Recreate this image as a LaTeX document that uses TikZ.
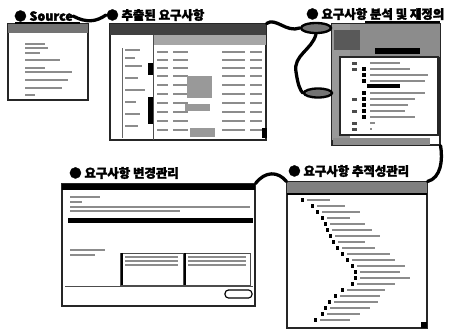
\documentclass[tikz,border=0pt]{standalone}
\usepackage{fontspec}
\newfontfamily\kr{Noto Sans CJK KR}[BoldFeatures={FakeBold=2.5}]
\usetikzlibrary{fit,shapes.geometric}
\tikzset{
  win/.style={draw=black!85, line width=0.9pt, fill=white, inner sep=0pt},
  titlebar/.style={fill=black!55},
  scrib/.style={black!45, line width=0.9pt},
  wire/.style={line width=2.8pt, line cap=round},
  lbl/.style={font=\kr\bfseries\fontsize{10.6}{12}\selectfont, inner sep=0pt, anchor=west},
  oval/.style={ellipse, draw=black, line width=2pt, fill=black!55, inner sep=0pt}
}
\begin{document}
\begin{tikzpicture}[x=0.03cm, y=-0.03cm]
  \useasboundingbox (0,0) rectangle (453,331);

  % labels
  \node[lbl] (srclbl) at (14,16) {● Source};
  \node[lbl] (extlbl) at (106,15) {● 추출된 요구사항};
  \node[lbl] (anlbl) at (306,14) {● 요구사항 분석 및 재정의};
  \node[lbl] (chglbl) at (69,173) {● 요구사항 변경관리};
  \node[lbl] (trclbl) at (288,171) {● 요구사항 추적성관리};

  % source window
  \node[win, fit={(8,24) (88,100)}] (src) {};
  \fill[titlebar] (8,24) rectangle (88,33);
  \draw[line width=2pt] (15,23) -- (80,23);
  \foreach \y/\a/\b in {44/25/45, 48/25/48, 53/25/40, 60/25/60, 68/25/45,
                        72/25/72, 80/25/68, 88/25/62, 95/25/35}
    \draw[scrib] (\a,\y) -- (\b,\y);

  % extracted requirements window
  \node[win, fit={(110,24) (266,140)}] (ext) {};
  \fill[black!75] (110,24) rectangle (266,35);
  \fill[black!35] (153,35) rectangle (266,45);
  \draw[black!60, line width=0.8pt] (122,48) -- (122,138);
  \fill (148,63) rectangle (153,75);
  \fill (148,97) rectangle (153,124);
  \draw[black!70] (153,35) -- (153,140);
  \foreach \y in {52,60,68,76,85,94,103,112,121,130} {
    \draw[scrib] (157,\y) -- (168,\y);
    \draw[scrib] (173,\y) -- (188,\y);
    \draw[scrib] (222,\y) -- (245,\y);
    \draw[scrib] (250,\y) -- (262,\y);
  }
  \foreach \y/\b in {50/140, 58/135, 66/142, 78/138, 90/145, 102/136, 114/140, 126/138}
    \draw[scrib] (125,\y) -- (\b,\y);
  \fill[black!40] (187,76) rectangle (212,98);
  \fill[black!40] (185,104) rectangle (210,111);
  \fill[black!40] (190,128) rectangle (215,137);
  \fill (262,128) rectangle (267,138);

  % analysis windows
  \node[win, fit={(332,24) (440,145)}] (anB) {};
  \fill[black!45] (350,24) rectangle (440,57);
  \fill[black!40] (332,24) rectangle (350,140);
  \fill[black!65] (334,30) rectangle (360,50);
  \fill (375,48) rectangle (420,54);
  \draw[line width=2pt] (365,22) -- (440,22);
  \fill[black!45] (333,138) rectangle (430,145);
  \node[win, line width=1.3pt, fit={(340,57) (438,135)}] (anF) {};
  \foreach \y/\b in {63/400, 69/410, 75/428, 81/425, 93/425, 99/415,
                     105/408, 111/405, 117/415, 123/375, 129/372}
    \draw[scrib] (370,\y) -- (\b,\y);
  \foreach \y in {69,75,81,93,99,105,111,117}
    \fill (362,\y-2) rectangle (366,\y+2);
  \fill (367,84) rectangle (400,88);
  \foreach \y in {63,69,99,111,123,129}
    \fill[black!70] (352,\y-1.5) rectangle (357,\y+1.5);

  % change management window
  \node[win, fit={(62,184) (255,306)}] (chg) {};
  \fill (62,184) rectangle (255,190);
  \foreach \y/\a/\b in {197/70/100, 202/70/82, 207/70/250, 211/70/180}
    \draw[scrib] (\a,\y) -- (\b,\y);
  \fill (68,218) rectangle (253,223);
  \draw[scrib] (70,250) -- (105,250);
  \draw[scrib] (70,255) -- (95,255);
  \draw[black!70] (120,253) rectangle (183,285);
  \draw[black!70] (183,253) rectangle (250,285);
  \draw[line width=1.5pt] (122,253) -- (122,285);
  \draw[line width=1.5pt] (185,253) -- (185,285);
  \foreach \y in {257,261,265} {
    \draw[scrib] (125,\y) -- (178,\y);
    \draw[scrib] (188,\y) -- (246,\y);
  }
  \draw[black!70] (65,286) -- (253,286);
  \draw[line width=1pt, rounded corners=3pt] (225,290) rectangle (252,298);

  % traceability window
  \node[win, fit={(287,182) (427,328)}] (trc) {};
  \fill[black!50] (287,182) rectangle (427,193);
  \draw[line width=1.5pt] (287,194) -- (427,194);
  \foreach \x/\y/\b in {305/200/330, 315/206/345, 320/212/360, 325/218/350,
                        328/224/365, 330/230/372, 333/236/380, 336/242/365,
                        340/248/375, 345/254/390, 350/260/395, 355/266/405,
                        358/272/400, 358/278/410, 355/284/395, 345/290/385,
                        338/296/380, 332/302/378, 328/308/370, 325/314/360,
                        318/320/350}
  {
    \fill (\x-4,\y-2) rectangle (\x-1,\y+2);
    \draw[scrib] (\x+2,\y) -- (\b,\y);
  }
  \fill (421,322) rectangle (427,328);

  % connectors
  \node[oval, minimum width=30*0.03cm, minimum height=10*0.03cm] (ovA) at (316,28) {};
  \node[oval, minimum width=28*0.03cm, minimum height=9*0.03cm] (ovB) at (318,93) {};
  \draw[wire] (srclbl.east) .. controls (86,23) and (96,22) .. (extlbl.west);
  \draw[wire] (ext.north east) .. controls (276,17) and (286,33) .. (ovA.west);
  \draw[wire] (ovA.south) .. controls (312,50) and (293,55) .. (296,72)
    .. controls (298,85) and (300,90) .. (ovB.west);
  \draw[wire] (anB.south east) .. controls (443,160) and (441,178) .. (trc.north east);
  \draw[wire] (trc.north west) .. controls (278,171) and (265,171) .. (chg.north east);
\end{tikzpicture}
\end{document}
